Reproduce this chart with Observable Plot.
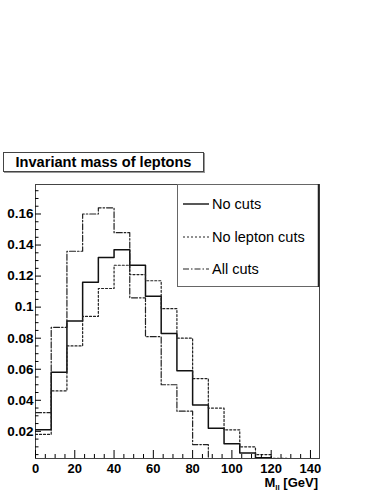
<!DOCTYPE html>
<html><head><meta charset="utf-8">
<script src="https://cdn.jsdelivr.net/npm/d3@7"></script>
<script src="https://cdn.jsdelivr.net/npm/@observablehq/plot@0.6"></script>
<style>
body{margin:0;background:#fff;}
#wrap{position:relative;width:382px;height:494px;font-family:"Liberation Sans",Arial,Helvetica,sans-serif;}
#title{position:absolute;left:3px;top:152px;width:199px;height:18px;border:1px solid #444;box-shadow:1px 1px 0 #999;font-weight:bold;font-size:14.6px;line-height:19px;text-align:center;background:#fff;color:#000;}
#chart{position:absolute;left:0;top:0;}
</style></head><body>
<div id="wrap"><div id="chart"></div><div id="title">Invariant mass of leptons</div></div>
<script>
// Bin lower edges (GeV), width 8, and final upper edge
const binStarts = [0,8,16,24,32,40,48,56,64,72,80,88,96,104,112,120,128,136];
const lastEdge = 144;
const seriesNames = ["No cuts", "No lepton cuts", "All cuts"];
const noCuts    = [0.021,0.058,0.091,0.116,0.132,0.137,0.127,0.107,0.083,0.059,0.037,0.022,0.012,0.006,0.003,0.002,0.001,0];
const noLepton  = [0.018,0.046,0.075,0.094,0.112,0.127,0.121,0.117,0.099,0.080,0.054,0.035,0.021,0.010,0.005,0.0026,0.001,0];
const allCuts   = [0.032,0.087,0.136,0.160,0.164,0.148,0.106,0.081,0.050,0.033,0.0115,0.001,0,0,0,0,0,0];
const xMajor = [0,20,40,60,80,100,120,140];
const yMajor = [0.02,0.04,0.06,0.08,0.1,0.12,0.14,0.16];

const xMinor = d3.range(5,145,5).filter(v => v % 20 !== 0);
const yMinor = d3.range(1,36).map(i => +(i*0.005).toFixed(3)).filter(v => Math.round(v*1000) % 20 !== 0);

function steps(vals){
  const pts = binStarts.map((b,i)=>({x:b,y:vals[i]}));
  pts.push({x:lastEdge,y:vals[vals.length-1]});
  return pts;
}
const styles = [
  {stroke:"#111", strokeWidth:1.5, dash:null},
  {stroke:"#222", strokeWidth:1.2, dash:"2,2"},
  {stroke:"#222", strokeWidth:1.2, dash:"6,2,1.5,2"}
];
const allSeries = [noCuts, noLepton, allCuts];

const font = "'Liberation Sans', Arial, Helvetica, sans-serif";
const svg = Plot.plot({
  width: 382, height: 494,
  marginLeft: 35, marginRight: 63, marginTop: 184, marginBottom: 36,
  style: {fontFamily: font, background: "#fff", color: "#000"},
  x: {domain: [0, 144.6]},
  y: {domain: [0.0025, 0.179]},
  marks: [
    Plot.frame({stroke: "#444", strokeWidth: 1}),
    ...allSeries.map((vals,i) => Plot.lineY(steps(vals), {x:"x", y:"y", curve:"step-after", clip:true,
        stroke: styles[i].stroke, strokeWidth: styles[i].strokeWidth, strokeDasharray: styles[i].dash})),
    Plot.axisX({ticks: xMajor, tickSize: -8, tickPadding: 13, label: null, fontSize: 13, fontWeight: "bold", tickFormat: d => String(d)}),
    Plot.axisX({ticks: xMinor, tickSize: -4, label: null, tickFormat: () => ""}),
    Plot.axisY({ticks: yMajor, tickSize: -6, tickPadding: 8, label: null, fontSize: 13.5, fontWeight: "bold", tickFormat: d => String(+d.toFixed(2))}),
    Plot.axisY({ticks: yMinor, tickSize: -3.5, label: null, tickFormat: () => ""})
  ]
});
document.getElementById("chart").appendChild(svg);

// x-axis title
const s = d3.select(svg);
const xt = s.append("text").attr("x", 318).attr("y", 487).attr("text-anchor","end")
  .attr("font-family", font).attr("font-weight","bold").attr("font-size", 13).attr("fill","#000");
xt.append("tspan").text("M");
xt.append("tspan").attr("font-size", 8).attr("dy", 3).text("ll");
xt.append("tspan").attr("dy", -3).text(" [GeV]");

// legend box
const lg = s.append("g");
lg.append("rect").attr("x",177.5).attr("y",184.5).attr("width",141).attr("height",102)
  .attr("fill","#fff").attr("stroke","#666").attr("stroke-width",1);
lg.append("line").attr("x1",318.5).attr("x2",318.5).attr("y1",184).attr("y2",287).attr("stroke","#222").attr("stroke-width",1.5);
const rowY = [204, 237, 269];
seriesNames.forEach((name,i) => {
  lg.append("line").attr("x1",183).attr("x2",209).attr("y1",rowY[i]).attr("y2",rowY[i])
    .attr("stroke", styles[i].stroke).attr("stroke-width", i===0?1.4:1.1)
    .attr("stroke-dasharray", styles[i].dash);
  lg.append("text").attr("x",212).attr("y",rowY[i]).attr("dy","0.35em").attr("text-anchor","start")
    .attr("font-family", font).attr("font-weight","normal").attr("font-size",14.5).attr("fill","#000").text(name);
});
</script>
</body></html>
